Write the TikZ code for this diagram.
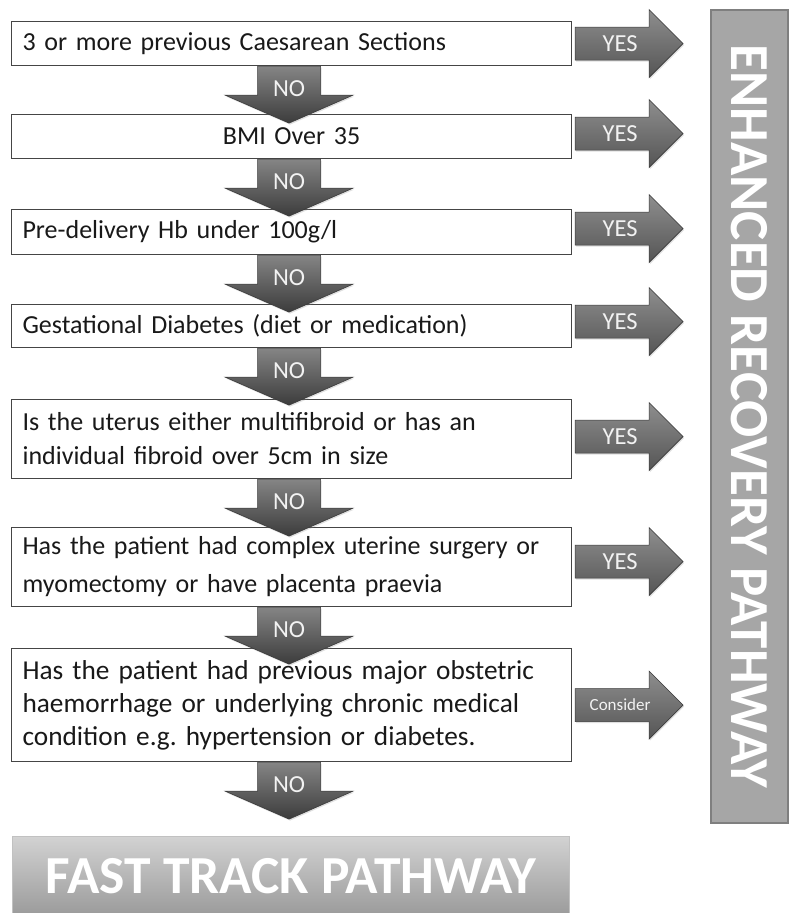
\documentclass[tikz,border=0pt]{standalone}
\usepackage{fontspec}
\setmainfont{Carlito}
\usetikzlibrary{shadows}
\frenchspacing
\definecolor{boxline}{HTML}{454545}
\definecolor{arrline}{HTML}{3A3A3A}
\definecolor{arrtop}{HTML}{8E8E8E}
\definecolor{arrbot}{HTML}{555555}
\definecolor{dntop}{HTML}{858585}
\definecolor{dnbot}{HTML}{3C3C3C}
\definecolor{lbl}{HTML}{F2F2F2}
\definecolor{enhfill}{HTML}{A6A6A6}
\definecolor{enhline}{HTML}{7F7F7F}
\definecolor{fttop}{HTML}{D2D2D2}
\definecolor{ftbot}{HTML}{9A9A9A}
\tikzset{
  qbox/.style={draw=boxline, line width=1.1pt, fill=white, minimum width=560pt,
    inner xsep=11pt, inner ysep=0pt, text width=538pt, align=left,
    font=\fontsize{26}{34}\selectfont, anchor=north west, text=black!90},
  dnshape/.style={draw=arrline, line width=0.6pt, top color=dntop, bottom color=dnbot,
    drop shadow={opacity=0.25, shadow xshift=1pt, shadow yshift=-1.5pt}},
  rtshape/.style={draw=arrline, line width=0.6pt, top color=arrtop, bottom color=arrbot,
    drop shadow={opacity=0.25, shadow xshift=1pt, shadow yshift=-1.5pt}},
  arrlabel/.style={text=lbl, font=\fontsize{24.5}{28}\selectfont, inner sep=0pt},
}
\newcommand{\dnarr}[2]{% #1 from box, #2 name
  \path (#1.south) ++(-2.5,0) coordinate (#2t);
  \draw[dnshape] (#2t) ++(-31.5,0) -- ++(63,0) -- ++(0,29) -- ++(32.5,0)
     -- ++(-64,28) -- ++(-64,-28) -- ++(32.5,0) -- cycle;
  \node[arrlabel] (#2) at ([yshift=-23pt]#2t) {NO};
}
\newcommand{\rtarr}[5]{% #1 from box, #2 name, #3 label, #4 dy, #5 font size
  \path (#1.east) ++(3,#4) coordinate (#2t);
  \draw[rtshape] (#2t) ++(0,-16.5) -- ++(74,0) -- ++(0,-17.5) -- ++(34,34)
     -- ++(-34,34) -- ++(0,-17.5) -- ++(-74,0) -- cycle;
  \node[arrlabel, font=\fontsize{#5}{#5}\selectfont] (#2) at ([xshift=45pt]#2t) {#3};
}
\begin{document}
\begin{tikzpicture}[x=1pt,y=-1pt]
\useasboundingbox (0,0) rectangle (789,913);
% question boxes
\node[qbox, minimum height=44pt] (b1) at (11,21) {3 or more previous Caesarean Sections};
\node[qbox, minimum height=44pt, align=center] (b2) at (11,114) {BMI Over 35};
\node[qbox, minimum height=45pt] (b3) at (11,209) {Pre-delivery Hb under 100g/l};
\node[qbox, minimum height=43pt] (b4) at (11,304) {Gestational Diabetes (diet or medication)};
\node[qbox, minimum height=79pt] (b5) at (11,399) {Is the uterus either multifibroid or has an\\individual fibroid over 5cm in size};
\node[qbox, minimum height=79pt, font=\fontsize{26}{38}\selectfont] (b6) at (11,527) {Has the patient had complex uterine surgery or\\myomectomy or have placenta praevia};
\node[qbox, minimum height=113pt, font=\fontsize{27.3}{33}\selectfont] (b7) at (11,648) {Has the patient had previous major obstetric\\haemorrhage or underlying chronic medical\\condition e.g. hypertension or diabetes.};
% pathway boxes
\node[draw=enhline, line width=1.5pt, fill=enhfill, rotate=-90, minimum width=813pt,
  minimum height=77pt, inner sep=0pt, text=white, font=\fontsize{55}{55}\selectfont\bfseries]
  (enh) at (749.5,416.5) {ENHANCED RECOVERY PATHWAY};
\node[draw=fttop!80!gray, line width=1pt, top color=fttop, bottom color=ftbot, anchor=north west,
  minimum width=557pt, minimum height=80pt, inner sep=0pt, text=white,
  font=\fontsize{53.5}{53.5}\selectfont\bfseries] (ft) at (12,836) {FAST TRACK PATHWAY};
% NO arrows
\dnarr{b1}{n1}
\dnarr{b2}{n2}
\dnarr{b3}{n3}
\dnarr{b4}{n4}
\dnarr{b5}{n5}
\dnarr{b6}{n6}
\dnarr{b7}{n7}
% YES arrows
\rtarr{b1}{y1}{YES}{0}{24.5}
\rtarr{b2}{y2}{YES}{-3}{24.5}
\rtarr{b3}{y3}{YES}{-3.5}{24.5}
\rtarr{b4}{y4}{YES}{-4.5}{24.5}
\rtarr{b5}{y5}{YES}{-2.5}{24.5}
\rtarr{b6}{y6}{YES}{-5.5}{24.5}
\rtarr{b7}{y7}{Consider}{0}{17}
\end{tikzpicture}
\end{document}
